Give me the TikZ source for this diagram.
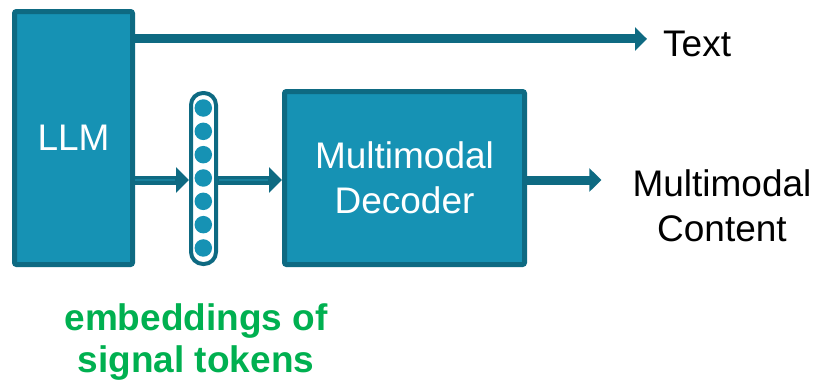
\documentclass[tikz,border=0pt]{standalone}
\usepackage{fontspec}
\setmainfont{Liberation Sans}
\usetikzlibrary{arrows.meta}
\definecolor{boxfill}{RGB}{22,146,180}
\definecolor{boxedge}{RGB}{14,106,130}
\definecolor{shaftmid}{RGB}{24,128,156}
\definecolor{labelgreen}{RGB}{0,176,80}
\tikzset{
  x=1pt, y=-1pt,
  block/.style={draw=boxedge, fill=boxfill, line width=5pt, rounded corners=2pt,
    inner sep=0pt, text=white, align=center, font=\fontsize{37}{45}\selectfont},
  capsule/.style={draw=boxedge, fill=white, line width=4pt, rounded corners=12pt,
    minimum width=25pt, minimum height=171pt, inner sep=0pt},
  dot/.style={circle, fill=boxfill, minimum size=17.5pt, inner sep=0pt},
  outlabel/.style={inner sep=0pt, align=center, font=\fontsize{37}{45}\selectfont},
  bigarrow/.style={draw=boxedge, line width=9pt, -{Triangle[length=12pt,width=23pt]}},
  smallarrow/.style={draw=boxedge, line width=9pt, -{Triangle[length=13pt,width=25pt]}},
  stripe/.style={draw=shaftmid, line width=2.5pt}
}
\begin{document}
\begin{tikzpicture}
  \useasboundingbox (0,0) rectangle (817,381);

  % main blocks
  \node[block, minimum width=118pt, minimum height=253pt] (llm) at (73.5,138) {LLM};
  \node[block, minimum width=240pt, minimum height=173pt] (dec) at (404.5,178) {Multimodal\\Decoder};

  % column of signal-token embeddings
  \node[capsule] (emb) at (203.5,178.5) {};
  \foreach \i in {0,...,6}
    \node[dot] (e\i) at (203.3,108+23.33*\i) {};

  % output labels
  \node[outlabel, anchor=base west] (txt) at (663,56) {Text};
  \node[outlabel] (cont) at (722,206) {Multimodal\\Content};
  \node[inner sep=0pt, align=center, text=labelgreen,
        font=\fontsize{37}{42}\selectfont\bfseries] (sig) at (196,342.5) {embeddings of\\signal tokens};

  % arrow endpoints (pt shifts act on the canvas, where up is positive)
  \coordinate (ttip) at ([shift={(-16pt,4.5pt)}]txt.west);
  \coordinate (eyin) at ([yshift=-1.5pt]emb.west);
  \coordinate (eyout) at ([yshift=-1.5pt]emb.east);
  \coordinate (din) at (dec.west |- eyout);
  \coordinate (dout) at ([yshift=-2pt]dec.east);
  \coordinate (ctip) at ([xshift=-31pt]cont.west |- dout);

  % connectors
  \draw[bigarrow] (llm.east |- ttip) -- (ttip);
  \draw[smallarrow] (llm.east |- eyin) -- (eyin);
  \draw[stripe] (llm.east |- eyin) -- ([xshift=-14pt]eyin);
  \draw[smallarrow] (eyout) -- (din);
  \draw[stripe] ([xshift=0.5pt]eyout) -- ([xshift=-14pt]din);
  \draw[bigarrow] (dout) -- (ctip);
\end{tikzpicture}
\end{document}
